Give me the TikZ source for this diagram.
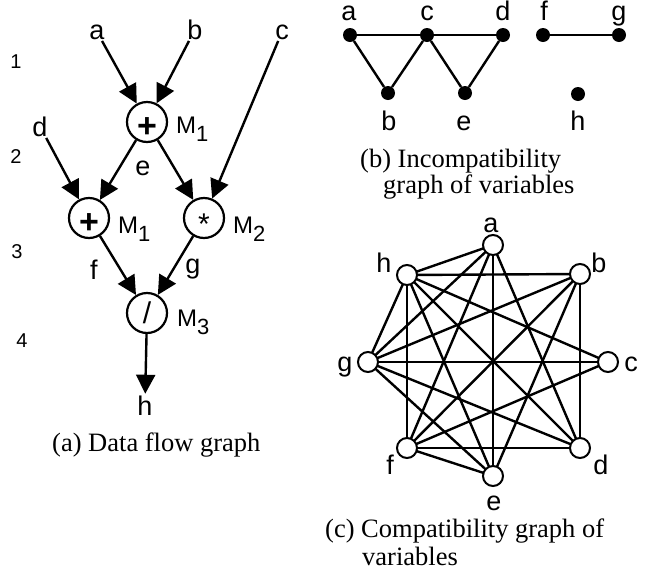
\documentclass[tikz,border=0pt]{standalone}
\usepackage{fontspec}
\setmainfont{Liberation Serif}
\setsansfont{Liberation Sans}
\usetikzlibrary{arrows.meta}
\newcommand{\lbl}{\sffamily\fontsize{27}{27}\selectfont}
\newcommand{\numf}{\sffamily\fontsize{20}{20}\selectfont}
\newcommand{\capf}{\rmfamily\fontsize{26.5}{28}\selectfont}
\newcommand{\Mlab}[1]{\sffamily{\fontsize{24}{24}\selectfont M}\raisebox{-8pt}{\fontsize{22}{22}\selectfont #1}}
\tikzset{
  op/.style={circle,draw,fill=white,line width=2.2pt,minimum size=40pt,inner sep=0pt,text height=0pt,text depth=0pt,font=\sffamily\bfseries\fontsize{34}{34}\selectfont},
  txt/.style={inner sep=1.5pt,font=\lbl,anchor=base},
  num/.style={inner sep=0pt,font=\numf,anchor=base},
  captext/.style={inner sep=0pt,font=\capf,anchor=base west},
  flow/.style={line width=2.4pt,-{Triangle[width=19pt,length=19pt]}},
  dot/.style={circle,fill=black,minimum size=14pt,inner sep=0pt},
  cdot/.style={circle,draw,fill=white,line width=2pt,minimum size=20pt,inner sep=0pt},
  link/.style={line width=2.4pt},
}
\begin{document}
\begin{tikzpicture}[x=1pt,y=-1pt]
\useasboundingbox (0,0) rectangle (649,579);
% ---------- (a) data flow graph
\node[num] (r1) at (16,68) {1};
\node[num] (r2) at (16,163) {2};
\node[num] (r3) at (17,258) {3};
\node[num] (r4) at (22,347) {4};

\node[op] (n1) at (147,122) {\raisebox{-15pt}{+}};
\node[op] (n2) at (89,218) {\raisebox{-15pt}{+}};
\node[op,font=\sffamily\fontsize{30}{30}\selectfont] (n3) at (204,218) {\raisebox{-16pt}{*}};
\node[op,font=\sffamily\fontsize{30}{30}\selectfont] (n4) at (147,313) {\raisebox{-10pt}{/}};

\node[txt] (la) at (97,39) {a};
\node[txt] (lb) at (195,39) {b};
\node[txt] (lc) at (282,39) {c};
\node[txt] (ld) at (40,136) {d};
\node[txt] (le) at (143,175) {e};
\node[txt] (lf) at (94,279) {f};
\node[txt] (lg) at (193,273) {g};
\node[txt] (lh) at (145,415) {h};

\node[anchor=base west,inner sep=0pt] (m1) at (176,133) {\Mlab{1}};
\node[anchor=base west,inner sep=0pt] (m2) at (118,233) {\Mlab{1}};
\node[anchor=base west,inner sep=0pt] (m3) at (233,233) {\Mlab{2}};
\node[anchor=base west,inner sep=0pt] (m4) at (177,326) {\Mlab{3}};

\draw[flow] (la) -- (n1);
\draw[flow] (lb) -- (n1);
\draw[flow] (lc) -- (n3);
\draw[flow] (ld) -- (n2);
\draw[flow] (n1) -- (n2);
\draw[flow] (n1) -- (n3);
\draw[flow] (n2) -- (n4);
\draw[flow] (n3) -- (n4);
\draw[flow] (n4) -- (lh);

\node[captext] (capa) at (52,451) {(a) Data flow graph};

% ---------- (b) incompatibility graph
\node[dot] (ba) at (350,35) {};
\node[dot] (bc) at (427,35) {};
\node[dot] (bd) at (503,35) {};
\node[dot] (bf) at (543,35) {};
\node[dot] (bg) at (619,35) {};
\node[dot] (bb) at (388,93) {};
\node[dot] (be) at (465,93) {};
\node[dot] (bh) at (578,94) {};
\node[txt] at (349,20) {a};
\node[txt] at (427,20) {c};
\node[txt] at (503,20) {d};
\node[txt] at (544,20) {f};
\node[txt] at (619,20) {g};
\node[txt] at (389,130) {b};
\node[txt] at (464,130) {e};
\node[txt] at (578,130) {h};
\draw[link] (ba) -- (bc) -- (bd);
\draw[link] (ba) -- (bb) -- (bc) -- (be) -- (bd);
\draw[link] (bf) -- (bg);
\node[captext] (capb1) at (360,167) {(b) Incompatibility};
\node[captext] (capb2) at (383,193) {graph of variables};

% ---------- (c) compatibility graph
\path (493,245) coordinate (pa) (580,274) coordinate (pb) (608,362) coordinate (pc)
      (580,448) coordinate (pd) (493,476) coordinate (pe) (407,448) coordinate (pf)
      (368,362) coordinate (pg) (407,275) coordinate (ph);
\foreach \u/\v in {a/d,a/e,a/f,a/g,a/h,b/d,b/e,b/f,b/g,b/h,c/f,c/g,c/h,d/f,d/g,d/h,e/f,e/g,e/h,f/h,g/h}
  \draw[link] (p\u) -- (p\v);
\foreach \n in {a,b,c,d,e,f,g,h}
  \node[cdot] (c\n) at (p\n) {};
\node[txt] at (491,232) {a};
\node[txt] at (384,272) {h};
\node[txt] at (599,272) {b};
\node[txt] at (345,371) {g};
\node[txt] at (631,371) {c};
\node[txt] at (390,474) {f};
\node[txt] at (601,474) {d};
\node[txt] at (494,510) {e};
\node[captext] (capc1) at (325,537) {(c) Compatibility graph of};
\node[captext] (capc2) at (362,565) {variables};
\end{tikzpicture}
\end{document}
